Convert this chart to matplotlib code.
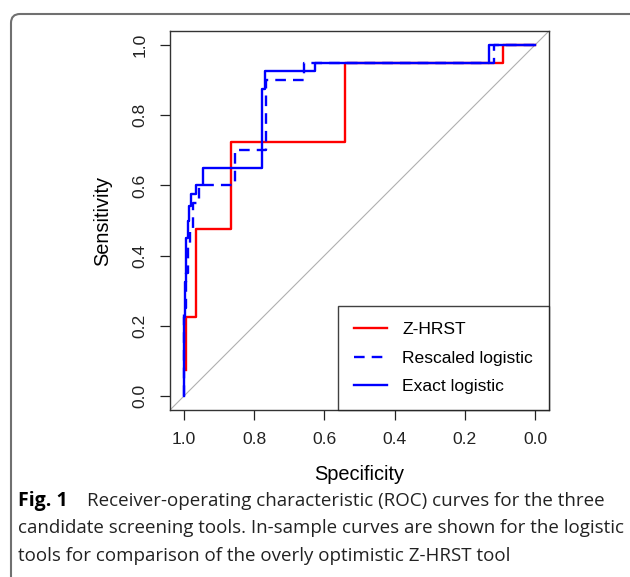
import matplotlib
matplotlib.use('Agg')
import matplotlib.pyplot as plt
from matplotlib.patches import FancyBboxPatch
from matplotlib.transforms import IdentityTransform

# ROC curve points (specificity, sensitivity)
zhrst_spec = [0.995, 0.995, 0.967, 0.967, 0.866, 0.866, 0.54, 0.54, 0.09, 0.09, 0.0]
zhrst_sens = [0.075, 0.225, 0.225, 0.475, 0.475, 0.725, 0.725, 0.95, 0.95, 1.0, 1.0]

resc_spec = [1.0, 1.0, 0.995, 0.995, 0.99, 0.99, 0.983, 0.983, 0.975, 0.975,
             0.957, 0.957, 0.855, 0.855, 0.767, 0.767, 0.658, 0.658, 0.116, 0.116, 0.0]
resc_sens = [0.0, 0.25, 0.25, 0.35, 0.35, 0.425, 0.425, 0.475, 0.475, 0.55,
             0.55, 0.60, 0.60, 0.70, 0.70, 0.90, 0.90, 0.95, 0.95, 1.0, 1.0]

exact_spec = [1.0, 1.0, 0.997, 0.997, 0.993, 0.993, 0.99, 0.99, 0.985, 0.985, 0.98, 0.98,
              0.966, 0.966, 0.947, 0.947, 0.779, 0.779, 0.77, 0.77, 0.628, 0.628, 0.13, 0.13, 0.0]
exact_sens = [0.0, 0.225, 0.225, 0.325, 0.325, 0.45, 0.45, 0.50, 0.50, 0.54, 0.54, 0.575,
              0.575, 0.60, 0.60, 0.65, 0.65, 0.875, 0.875, 0.925, 0.925, 0.95, 0.95, 1.0, 1.0]

ticks = [1.0, 0.8, 0.6, 0.4, 0.2, 0.0]
tick_labels = ['1.0', '0.8', '0.6', '0.4', '0.2', '0.0']

plt.rcParams['font.family'] = ['Liberation Sans', 'DejaVu Sans']

fig = plt.figure(figsize=(6.3, 5.77), dpi=100)
ax = fig.add_axes([170 / 630, 1 - 410 / 577, 379 / 630, 379 / 577])

# diagonal reference line
ax.axline((1, 0), (0, 1), color='#b0b0b0', lw=0.8, zorder=1)

ax.plot(zhrst_spec, zhrst_sens, color='#ff0000', lw=1.7, label='Z-HRST', zorder=2)
ax.plot(resc_spec, resc_sens, color='#0000ff', lw=1.7, dashes=(4.5, 3),
        label='Rescaled logistic', zorder=3)
ax.plot(exact_spec, exact_sens, color='#0000ff', lw=1.7, label='Exact logistic', zorder=4)

ax.set_xlim(1.04, -0.04)
ax.set_ylim(-0.04, 1.04)
ax.set_xticks(ticks)
ax.set_xticklabels(tick_labels)
ax.set_yticks(ticks)
ax.set_yticklabels(tick_labels, rotation=90, va='center')
ax.tick_params(direction='out', length=7.2, width=0.9, labelsize=12.6, pad=9, colors='#222222')
for s in ax.spines.values():
    s.set_linewidth(1.0)
    s.set_color('#333333')

ax.set_xlabel('Specificity', fontsize=14.4)
ax.set_ylabel('Sensitivity', fontsize=14.4)
ax.xaxis.set_label_coords(0.5, -65 / 379)
ax.xaxis.label.set_va('center')
ax.yaxis.set_label_coords(-67 / 379, 0.5)
ax.yaxis.label.set_va('center')

leg = ax.legend(loc='lower right', borderaxespad=0, fancybox=False, fontsize=12.6,
                handlelength=1.9, handletextpad=0.85, borderpad=0.92, labelspacing=0.74)
leg.get_frame().set_edgecolor('#111111')
leg.get_frame().set_linewidth(1.0)

# card frame (top and left edges with rounded corner)
frame = FancyBboxPatch((11, -20), 660, 563 + 20, boxstyle='round,pad=0,rounding_size=9',
                       transform=IdentityTransform(), facecolor='none', edgecolor='#707070',
                       lw=1.5, clip_on=False)
fig.add_artist(frame)

# caption
cap_font = ['Open Sans', 'DejaVu Sans']
fig.text(18 / 630, 1 - 506 / 577, 'Fig. 1', fontsize=14, fontweight='bold', family=cap_font,
         va='baseline', ha='left')
fig.text(87 / 630, 1 - 506 / 577, 'Receiver-operating characteristic (ROC) curves for the three',
         fontsize=13.5, family=cap_font, va='baseline', ha='left', color='#222222')
fig.text(18 / 630, 1 - 533.3 / 577,
         'candidate screening tools. In-sample curves are shown for the logistic',
         fontsize=13.5, family=cap_font, va='baseline', ha='left', color='#222222')
fig.text(18 / 630, 1 - 560.7 / 577,
         'tools for comparison of the overly optimistic Z-HRST tool',
         fontsize=13.5, family=cap_font, va='baseline', ha='left', color='#222222')

fig.savefig('out.png', dpi=100)
